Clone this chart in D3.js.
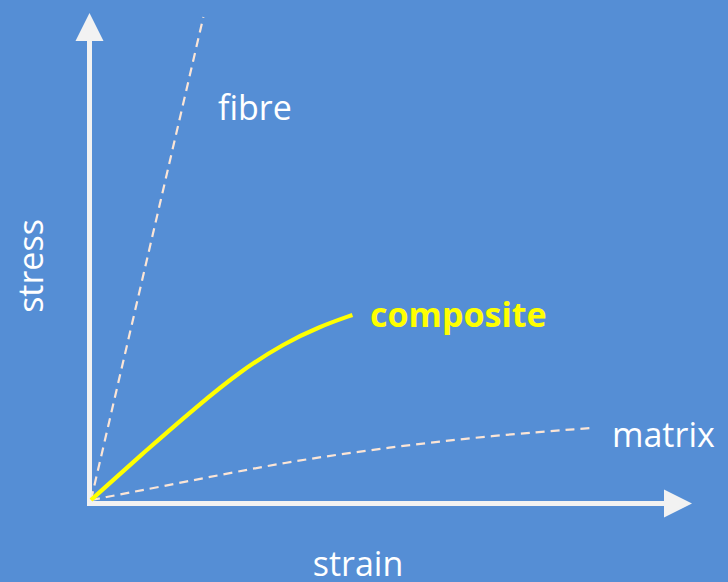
<!DOCTYPE html>
<html><head><meta charset="utf-8">
<script src="https://cdn.jsdelivr.net/npm/d3@7"></script>
<style>html,body{margin:0;padding:0;background:#558ED5;}svg{display:block;}</style>
</head><body>
<svg id="c" width="728" height="582"></svg>
<script>
// data (strain, stress) in arbitrary units
const fibre = [[0,0],[1.87,9.92]];
const composite = [[0,0],[0.9,1.0],[1.75,1.91],[2.5,2.66],[3.22,3.22],[3.8,3.56],[4.35,3.80]];
const matrix = [[0,0],[1.56,0.37],[3.23,0.78],[4.89,1.07],[6.55,1.31],[8.33,1.48]];
const seriesLabels = ["fibre","composite","matrix"];
const axisLabels = ["strain","stress"];

const svg = d3.select("#c");
const W = 728, H = 582;
svg.append("rect").attr("width",W).attr("height",H).attr("fill","#558ED5");

const x = d3.scaleLinear().domain([0,10]).range([91,692]);
const y = d3.scaleLinear().domain([0,10]).range([500,13]);

const axisCol = "#F2F2F2";
const ax = x(0)-1.5, ay = y(0)+3.5;
svg.append("line").attr("x1",ax).attr("x2",ax).attr("y1",ay+2.5).attr("y2",y(10)+26)
  .attr("stroke",axisCol).attr("stroke-width",5);
svg.append("path").attr("d",`M${ax},${y(10)} L${ax-14},${y(10)+28} L${ax+14},${y(10)+28} Z`).attr("fill",axisCol);
svg.append("line").attr("x1",ax-2.5).attr("x2",x(10)-26).attr("y1",ay).attr("y2",ay)
  .attr("stroke",axisCol).attr("stroke-width",5);
svg.append("path").attr("d",`M${x(10)},${ay} L${x(10)-28},${ay-14} L${x(10)-28},${ay+14} Z`).attr("fill",axisCol);

const line = d3.line().x(d=>x(d[0])).y(d=>y(d[1])).curve(d3.curveBasis);
const dashCol = "#FBE5D6";
svg.append("path").attr("d",line(fibre)).attr("fill","none").attr("stroke",dashCol)
  .attr("stroke-width",2.2).attr("stroke-dasharray","9,6");
svg.append("path").attr("d",line(matrix)).attr("fill","none").attr("stroke",dashCol)
  .attr("stroke-width",2.2).attr("stroke-dasharray","9,6");
svg.append("path").attr("d",line(composite)).attr("fill","none").attr("stroke","#FFFF00")
  .attr("stroke-width",4.2);

const font = "'Open Sans', sans-serif";
function lbl(t){ return t.attr("font-family",font).attr("font-size",34).style("font-variant-ligatures","none"); }
lbl(svg.append("text").attr("x",218).attr("y",120).text(seriesLabels[0]).attr("fill","#FFFFFF"));
lbl(svg.append("text").attr("x",370).attr("y",327).text(seriesLabels[1]).attr("fill","#FFFF00").attr("font-weight","bold").attr("font-size",33.2));
lbl(svg.append("text").attr("x",612).attr("y",447).text(seriesLabels[2]).attr("fill","#FFFFFF"));
lbl(svg.append("text").attr("x",358).attr("y",576).attr("text-anchor","middle").text(axisLabels[0]).attr("fill","#FFFFFF"));
lbl(svg.append("text").attr("transform","translate(43,266) rotate(-90)").attr("text-anchor","middle").text(axisLabels[1]).attr("fill","#FFFFFF"));
</script>
</body></html>
